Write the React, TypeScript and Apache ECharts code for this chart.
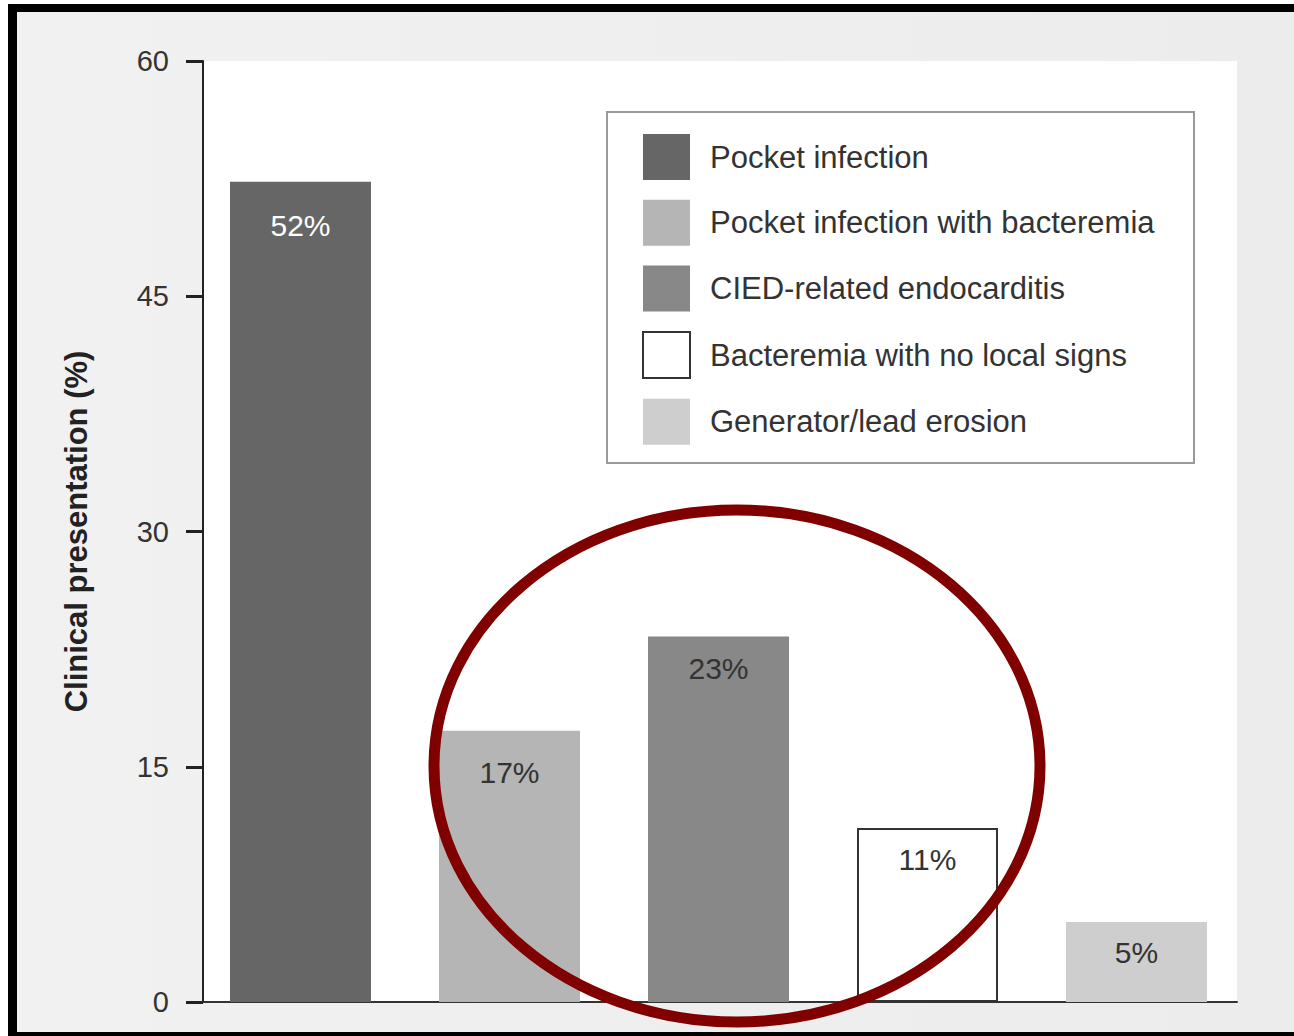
import React, { useEffect, useRef } from "react";
import * as echarts from "echarts";

const categories = [
  "Pocket infection",
  "Pocket infection with bacteremia",
  "CIED-related endocarditis",
  "Bacteremia with no local signs",
  "Generator/lead erosion",
];
const values = [52.3, 17.3, 23.3, 11.1, 5.1];
const valueLabels = ["52%", "17%", "23%", "11%", "5%"];
const yTicks = { min: 0, max: 60, interval: 15 };

const barColors = ["#666666", "#b5b5b5", "#888888", "#ffffff", "#cecece"];
const labelColors = ["#ffffff", "#333333", "#333333", "#333333", "#333333"];
const labelDistances = [29, 27, 17, 17, 15];

const FONT = '"Liberation Sans", Arial, Helvetica, sans-serif';

export default function App() {
  const ref = useRef<HTMLDivElement>(null);

  useEffect(() => {
    document.body.style.margin = "0";
    if (!ref.current) return;
    const chart = echarts.init(ref.current, null, { renderer: "svg" });

    const series = categories.map((name, i) => ({
      name,
      type: "bar",
      stack: "all",
      xAxisIndex: 1,
      yAxisIndex: 1,
      barWidth: 141,
      data: categories.map((_, j) => (j === i ? values[i] : null)),
      itemStyle:
        i === 3
          ? { color: barColors[i], borderColor: "#333333", borderWidth: 2 }
          : { color: barColors[i] },
      label: {
        show: true,
        position: "insideTop",
        distance: labelDistances[i],
        formatter: () => valueLabels[i],
        fontSize: 30,
        fontFamily: FONT,
        color: labelColors[i],
      },
      z: 2,
    }));

    const option = {
      animation: false,
      backgroundColor: "#ffffff",
      textStyle: { fontFamily: FONT },
      graphic: [
        {
          type: "rect",
          z: -10,
          silent: true,
          shape: { x: 17, y: 12, width: 1294 - 17, height: 1032 - 12 },
          style: {
            fill: new echarts.graphic.LinearGradient(0, 0, 1, 0, [
              { offset: 0, color: "#f1f1f1" },
              { offset: 1, color: "#ececec" },
            ]),
          },
        },
        {
          type: "rect",
          z: 50,
          silent: true,
          shape: { x: 8, y: 4, width: 1294 - 8, height: 8 },
          style: { fill: "#000000" },
        },
        {
          type: "rect",
          z: 50,
          silent: true,
          shape: { x: 8, y: 4, width: 9, height: 1036 - 4 },
          style: { fill: "#000000" },
        },
        {
          type: "rect",
          z: 50,
          silent: true,
          shape: { x: 8, y: 1032, width: 1294 - 8, height: 4 },
          style: { fill: "#000000" },
        },
        {
          type: "rect",
          z: 3,
          silent: true,
          shape: { x: 607, y: 112, width: 587, height: 351 },
          style: { fill: "#ffffff", stroke: "#999999", lineWidth: 2 },
        },
        {
          type: "ellipse",
          z: 100,
          silent: true,
          shape: { cx: 737, cy: 766, rx: 303, ry: 256 },
          style: { fill: "none", stroke: "#800000", lineWidth: 11 },
        },
      ],
      legend: {
        orient: "vertical",
        left: 642,
        top: 134,
        padding: 0,
        itemWidth: 47,
        itemHeight: 46,
        itemGap: 19.7,
        icon: "rect",
        data: categories,
        z: 5,
        textStyle: {
          fontSize: 31,
          color: "#333333",
          fontFamily: FONT,
          padding: [0, 0, 0, 15],
        },
      },
      grid: [
        {
          left: 203,
          right: 1294 - 1237,
          top: 61,
          bottom: 1036 - 1002,
          show: true,
          backgroundColor: "#ffffff",
          borderWidth: 0,
        },
        {
          left: 196,
          width: 1045,
          top: 61,
          bottom: 1036 - 1002,
        },
      ],
      xAxis: [
        {
          type: "category",
          gridIndex: 0,
          data: categories,
          axisLine: { show: true, lineStyle: { color: "#333333", width: 2 } },
          axisTick: { show: false },
          axisLabel: { show: false },
        },
        {
          type: "category",
          gridIndex: 1,
          data: categories,
          show: false,
        },
      ],
      yAxis: [
        {
          type: "value",
          gridIndex: 0,
          min: yTicks.min,
          max: yTicks.max,
          interval: yTicks.interval,
          name: "Clinical presentation (%)",
          nameLocation: "middle",
          nameGap: 111,
          nameTextStyle: {
            fontSize: 31,
            fontWeight: "bold",
            color: "#222222",
            fontFamily: FONT,
          },
          axisLine: { show: true, lineStyle: { color: "#222222", width: 2 } },
          axisTick: {
            show: true,
            length: 17,
            lineStyle: { color: "#222222", width: 3 },
          },
          axisLabel: {
            fontSize: 29,
            color: "#333333",
            margin: 34,
            fontFamily: FONT,
          },
          splitLine: { show: false },
        },
        {
          type: "value",
          gridIndex: 1,
          min: yTicks.min,
          max: yTicks.max,
          interval: yTicks.interval,
          show: false,
          splitLine: { show: false },
        },
      ],
      series,
    };

    chart.setOption(option as any);
    return () => chart.dispose();
  }, []);

  return <div ref={ref} style={{ width: 1294, height: 1036 }} />;
}
